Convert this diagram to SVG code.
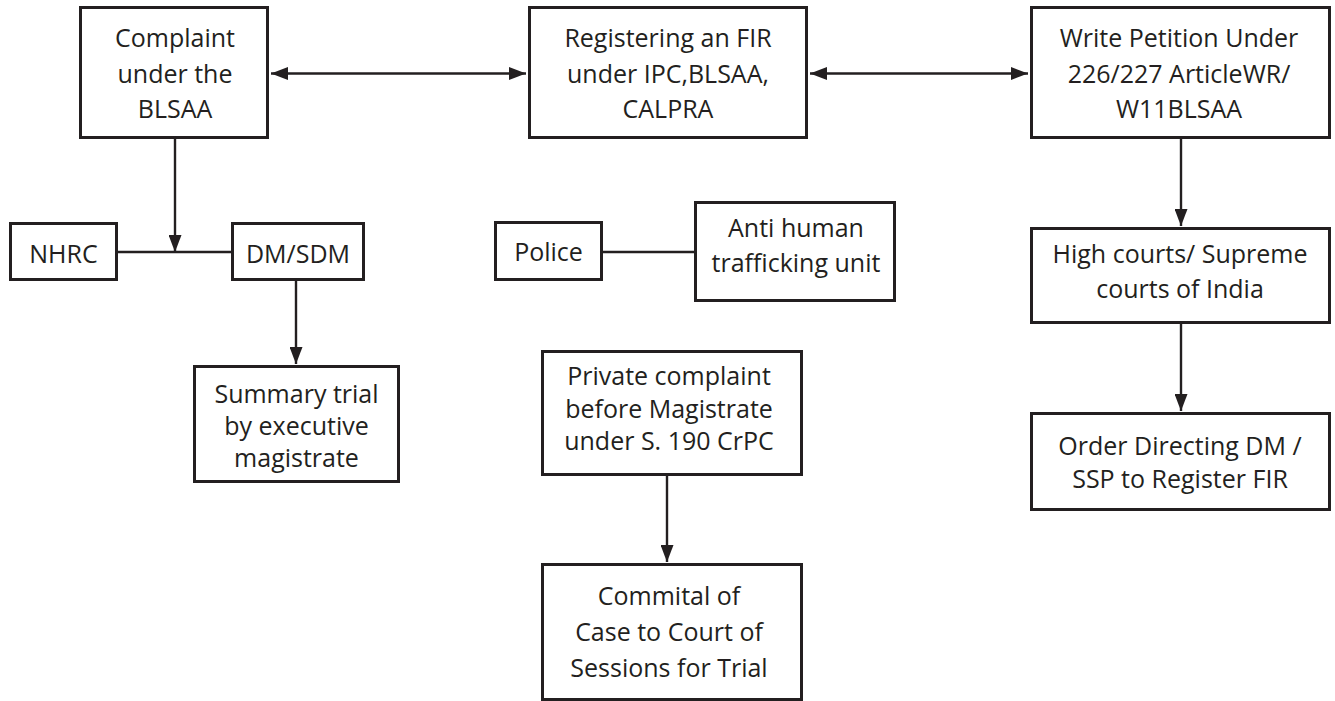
<svg xmlns="http://www.w3.org/2000/svg" width="1335" height="701" viewBox="0 0 1335 701">
  <defs>
    <style>
      .box { fill: #ffffff; stroke: #231f20; stroke-width: 3; }
      .lbl { font-family: "Open Sans", "Noto Sans", "Liberation Sans", sans-serif; font-size: 25px; fill: #231f20; text-anchor: middle; }
      .conn { stroke: #231f20; stroke-width: 2.4; fill: none; }
    </style>
    <marker id="head" markerUnits="userSpaceOnUse" markerWidth="17" markerHeight="13" refX="17" refY="6.5" orient="auto-start-reverse">
      <path d="M0,0 L17,6.5 L0,13 Z" fill="#231f20"/>
    </marker>
  </defs>

  <rect width="1335" height="701" fill="#ffffff"/>

  <!-- connectors -->
  <g id="connectors">
    <line class="conn" x1="271" y1="73.5" x2="526" y2="73.5" marker-start="url(#head)" marker-end="url(#head)"/>
    <line class="conn" x1="810" y1="73.5" x2="1028" y2="73.5" marker-start="url(#head)" marker-end="url(#head)"/>
    <line class="conn" x1="175" y1="139" x2="175" y2="252" marker-end="url(#head)"/>
    <line class="conn" x1="118" y1="252" x2="231" y2="252"/>
    <line class="conn" x1="296" y1="281" x2="296" y2="364" marker-end="url(#head)"/>
    <line class="conn" x1="603" y1="252" x2="694" y2="252"/>
    <line class="conn" x1="667" y1="476" x2="667" y2="562" marker-end="url(#head)"/>
    <line class="conn" x1="1181" y1="139" x2="1181" y2="226" marker-end="url(#head)"/>
    <line class="conn" x1="1181" y1="324" x2="1181" y2="411" marker-end="url(#head)"/>
  </g>

  <g id="complaint-blsaa">
    <rect class="box" x="80.5" y="7.5" width="187" height="130"/>
    <text class="lbl" x="175" y="47">Complaint</text>
    <text class="lbl" x="175" y="83">under the</text>
    <text class="lbl" x="175" y="118">BLSAA</text>
  </g>

  <g id="register-fir">
    <rect class="box" x="529.5" y="7.5" width="277" height="130"/>
    <text class="lbl" x="668" y="47">Registering an FIR</text>
    <text class="lbl" x="668" y="83">under IPC,BLSAA,</text>
    <text class="lbl" x="668" y="118">CALPRA</text>
  </g>

  <g id="write-petition">
    <rect class="box" x="1031.5" y="7.5" width="298" height="130"/>
    <text class="lbl" x="1179" y="47">Write Petition Under</text>
    <text class="lbl" x="1179" y="83">226/227 ArticleWR/</text>
    <text class="lbl" x="1179" y="118">W11BLSAA</text>
  </g>

  <g id="nhrc">
    <rect class="box" x="10.5" y="223.5" width="106" height="56"/>
    <text class="lbl" x="63.5" y="263">NHRC</text>
  </g>

  <g id="dm-sdm">
    <rect class="box" x="232.5" y="223.5" width="131" height="56"/>
    <text class="lbl" x="298" y="263">DM/SDM</text>
  </g>

  <g id="summary-trial">
    <rect class="box" x="194.5" y="366.5" width="204" height="115"/>
    <text class="lbl" x="296.5" y="403">Summary trial</text>
    <text class="lbl" x="296.5" y="435">by executive</text>
    <text class="lbl" x="296.5" y="467">magistrate</text>
  </g>

  <g id="police">
    <rect class="box" x="495.5" y="222.5" width="106" height="57"/>
    <text class="lbl" x="548.5" y="261">Police</text>
  </g>

  <g id="anti-trafficking">
    <rect class="box" x="695.5" y="202.5" width="199" height="98"/>
    <text class="lbl" x="796" y="237">Anti human</text>
    <text class="lbl" x="796" y="272">trafficking unit</text>
  </g>

  <g id="private-complaint">
    <rect class="box" x="542.5" y="351.5" width="259" height="123"/>
    <text class="lbl" x="669" y="385">Private complaint</text>
    <text class="lbl" x="669" y="418">before Magistrate</text>
    <text class="lbl" x="669" y="450">under S. 190 CrPC</text>
  </g>

  <g id="committal">
    <rect class="box" x="542.5" y="564.5" width="259" height="135"/>
    <text class="lbl" x="669" y="605">Commital of</text>
    <text class="lbl" x="669" y="641">Case to Court of</text>
    <text class="lbl" x="669" y="677">Sessions for Trial</text>
  </g>

  <g id="high-courts">
    <rect class="box" x="1031.5" y="228.5" width="298" height="94"/>
    <text class="lbl" x="1180" y="263">High courts/ Supreme</text>
    <text class="lbl" x="1180" y="298">courts of India</text>
  </g>

  <g id="order-directing">
    <rect class="box" x="1031.5" y="413.5" width="298" height="96"/>
    <text class="lbl" x="1180" y="455">Order Directing DM /</text>
    <text class="lbl" x="1180" y="488">SSP to Register FIR</text>
  </g>
</svg>
